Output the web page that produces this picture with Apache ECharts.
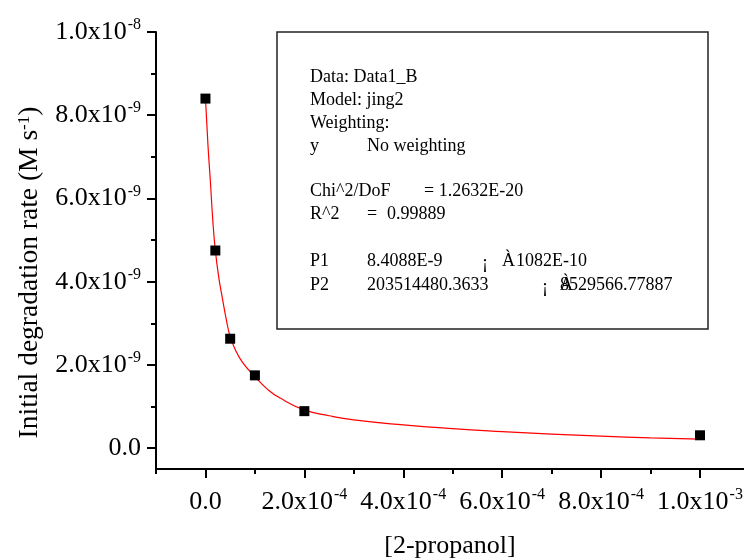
<!DOCTYPE html>
<html><head><meta charset="utf-8">
<script src="https://cdn.jsdelivr.net/npm/echarts@6/dist/echarts.min.js"></script>
<style>html,body{margin:0;padding:0;background:#fff}#c{width:744px;height:559px}</style>
</head><body><div id="c"></div>
<script>
// measured data
const conc = [0, 2e-5, 5e-5, 1e-4, 2e-4, 1e-3];
const rate = [8.40e-9, 4.75e-9, 2.63e-9, 1.75e-9, 0.89e-9, 0.31e-9];
// fitted curve
const fitX = [0, 5e-6, 1e-5, 1.5e-5, 2e-5, 2.7e-5, 3.4e-5, 4.2e-5, 5e-5, 6e-5, 7.5e-5, 1e-4, 1.25e-4, 1.5e-4, 2e-4, 2.5e-4, 3e-4, 4e-4, 5e-4, 6e-4, 7e-4, 8e-4, 9e-4, 1e-3];
const fitY = [8.41e-9, 7.30e-9, 6.40e-9, 5.45e-9, 4.75e-9, 4.10e-9, 3.62e-9, 3.10e-9, 2.68e-9, 2.38e-9, 2.06e-9, 1.72e-9, 1.42e-9, 1.21e-9, 0.92e-9, 0.78e-9, 0.68e-9, 0.56e-9, 0.47e-9, 0.40e-9, 0.34e-9, 0.29e-9, 0.25e-9, 0.22e-9];
// ticks
const xMajorTicks = [0, 2e-4, 4e-4, 6e-4, 8e-4, 1e-3];
const xMajorLabels = [['0.0', ''], ['2.0x10', '-4'], ['4.0x10', '-4'], ['6.0x10', '-4'], ['8.0x10', '-4'], ['1.0x10', '-3']];
const xMinorTicks = [-1e-4, 1e-4, 3e-4, 5e-4, 7e-4, 9e-4];
const yMajorTicks = [0, 2e-9, 4e-9, 6e-9, 8e-9, 1e-8];
const yMajorLabels = [['0.0', ''], ['2.0x10', '-9'], ['4.0x10', '-9'], ['6.0x10', '-9'], ['8.0x10', '-9'], ['1.0x10', '-8']];
const yMinorTicks = [1e-9, 3e-9, 5e-9, 7e-9, 9e-9];
// fit report text
const boxCol1 = ['Data: Data1_B', 'Model: jing2', 'Weighting:', 'y', 'Chi^2/DoF', 'R^2', 'P1', 'P2'];
const boxCol2 = ['', '', '', 'No weighting', '', '=', '8.4088E-9', '203514480.3633'];
const boxExtra = [['= 1.2632E-20'], ['0.99889'], ['¡', 'À', '1082E-10'], ['¡', 'À', '8529566.77887']];

const FONT = 'Liberation Serif';
function fmt(ticks, labels, tol) {
  return function (v) {
    for (let i = 0; i < ticks.length; i++) {
      if (Math.abs(v - ticks[i]) < tol) {
        const l = labels[i];
        return l[1] ? '{m|' + l[0] + '}{e|' + l[1] + '}' : '{m|' + l[0] + '}';
      }
    }
    return '';
  };
}
const rich = {
  m: { fontFamily: FONT, fontSize: 26, color: '#000', lineHeight: 30 },
  e: { fontFamily: FONT, fontSize: 16, color: '#000', verticalAlign: 'top', lineHeight: 16, padding: [0, 0, 0, 1] }
};
const axisLineStyle = { color: '#000', width: 2 };

const chart = echarts.init(document.getElementById('c'), null, { renderer: 'canvas' });

const rowY = [77, 100.5, 123.5, 146, 191, 214, 261, 285];
const graphics = [{
  type: 'rect', shape: { x: 277, y: 32, width: 431, height: 297 },
  style: { fill: 'transparent', stroke: '#222', lineWidth: 1.5 }, z: 10
}];
function txt(s, x, y) {
  return { type: 'text', x: x, y: y, z: 11, style: { text: s, fontFamily: FONT, fontSize: 18, fill: '#000', verticalAlign: 'middle', align: 'left' } };
}
for (let i = 0; i < boxCol1.length; i++) {
  graphics.push(txt(boxCol1[i], 310, rowY[i]));
  if (boxCol2[i]) graphics.push(txt(boxCol2[i], 367, rowY[i]));
}
graphics.push(txt(boxExtra[0][0], 424, rowY[4]));
graphics.push(txt(boxExtra[1][0], 387, rowY[5]));
graphics.push(txt(boxExtra[2][0], 482, rowY[6] + 2));
graphics.push(txt(boxExtra[2][1], 502, rowY[6]));
graphics.push(txt(boxExtra[2][2], 516, rowY[6]));
graphics.push(txt(boxExtra[3][0], 542, rowY[7] + 2));
graphics.push(txt(boxExtra[3][1], 560, rowY[7]));
graphics.push(txt(boxExtra[3][2], 560, rowY[7]));

const option = {
  animation: false,
  backgroundColor: '#fff',
  grid: { left: 156, top: 32, right: 0, bottom: 90, containLabel: false, outerBoundsMode: 'none' },
  xAxis: [{
    type: 'value', min: -1e-4, max: 1.089e-3, position: 'bottom',
    axisLine: { show: true, onZero: false, lineStyle: axisLineStyle },
    axisTick: { show: true, customValues: xMajorTicks, length: 9, lineStyle: axisLineStyle },
    axisLabel: { customValues: xMajorTicks, formatter: fmt(xMajorTicks, xMajorLabels, 1e-9), rich: rich, margin: 18 },
    splitLine: { show: false },
    name: '[2-propanol]', nameLocation: 'middle', nameGap: 64,
    nameTextStyle: { fontFamily: FONT, fontSize: 26, color: '#000' }
  }, {
    type: 'value', min: -1e-4, max: 1.089e-3, position: 'bottom',
    axisLine: { show: false, onZero: false },
    axisTick: { show: true, customValues: xMinorTicks, length: 5, lineStyle: axisLineStyle },
    axisLabel: { show: false },
    splitLine: { show: false }
  }],
  yAxis: [{
    type: 'value', min: -5e-10, max: 1e-8, position: 'left',
    axisLine: { show: true, onZero: false, lineStyle: axisLineStyle },
    axisTick: { show: true, customValues: yMajorTicks, length: 9, lineStyle: axisLineStyle },
    axisLabel: { customValues: yMajorTicks, formatter: fmt(yMajorTicks, yMajorLabels, 1e-14), rich: rich, margin: 15 },
    splitLine: { show: false },
    name: 'Initial degradation rate (M s{e|-1})', nameLocation: 'middle', nameGap: 110, nameRotate: 90,
    nameTextStyle: { fontFamily: FONT, fontSize: 27.5, color: '#000', padding: [0, 44, 0, 0], rich: { e: { fontFamily: FONT, fontSize: 17, color: '#000', verticalAlign: 'top', lineHeight: 17 } } }
  }, {
    type: 'value', min: -5e-10, max: 1e-8, position: 'left',
    axisLine: { show: false, onZero: false },
    axisTick: { show: true, customValues: yMinorTicks, length: 5, lineStyle: axisLineStyle },
    axisLabel: { show: false },
    splitLine: { show: false }
  }],
  series: [{
    type: 'line', xAxisIndex: 0, yAxisIndex: 0,
    data: fitX.map((x, i) => [x, fitY[i]]),
    smooth: true, showSymbol: false, symbol: 'none',
    lineStyle: { color: '#ff0000', width: 1.2 }, z: 2
  }, {
    type: 'scatter', xAxisIndex: 0, yAxisIndex: 0,
    data: conc.map((x, i) => [x, rate[i]]),
    symbol: 'rect', symbolSize: 10,
    itemStyle: { color: '#000', opacity: 1 }, z: 3
  }],
  graphic: graphics
};
chart.setOption(option);
</script>
</body></html>
